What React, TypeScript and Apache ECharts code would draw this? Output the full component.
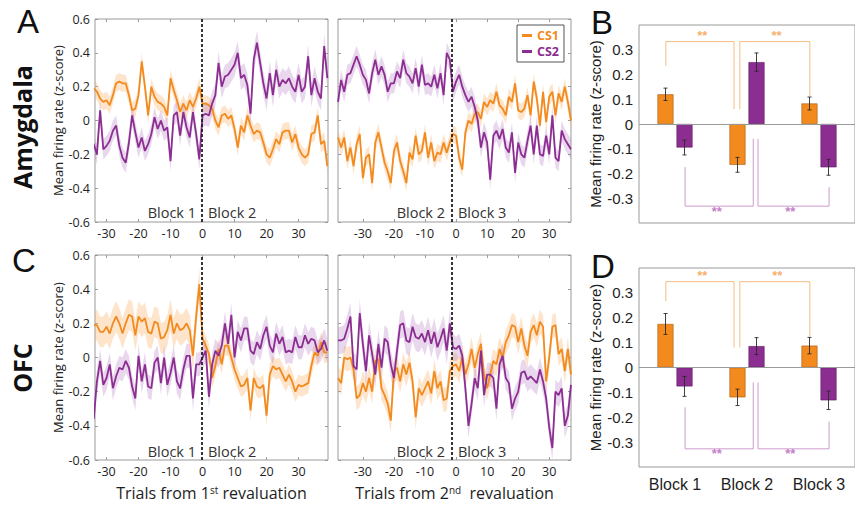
import React, { useEffect, useRef } from 'react';
import * as echarts from 'echarts';

// ---------------- data ----------------
const FIRST_TRIAL_1ST = -35; // left panels: trials -35..39
const FIRST_TRIAL_2ND = -38; // right panels: trials -38..37
const X_RANGE_1ST = [-33.6, 39.2];
const X_RANGE_2ND = [-38, 37];
const REVAL_1ST_X = -0.1;
const REVAL_2ND_X = -1.3;

const xTickValues = [-30, -20, -10, 0, 10, 20, 30];

// Amygdala, 1st revaluation (Block 1 | Block 2)
const amyL_cs1 = [0.2,
  0.19, 0.17, 0.13, 0.11, 0.12, 0.09, 0.15, 0.22, 0.23, 0.22, 0.22, 0.15, 0.06, 0.07, 0.15, 0.35, 0.2,
  0.03, 0.2, 0.14, 0.11, 0.1, 0.08, 0.03, 0.25, 0.18, 0.12, 0.05, 0.1, 0.06, 0.12, 0.08, 0.13, 0.2,
  0.1, 0.1, 0.09, 0.07, 0.0, -0.04, 0.03, 0.04, 0.01, 0.03, -0.05, -0.16, -0.03, -0.07, 0.03, -0.03, -0.08,
  -0.06, -0.07, -0.13, -0.2, -0.22, -0.17, -0.11, -0.14, -0.07, -0.06, -0.06, -0.13, -0.08, -0.16, -0.2,
  -0.22, -0.2, -0.08, -0.07, 0.03, -0.14, -0.12, -0.27];
const amyL_cs2 = [-0.12,
  -0.14, -0.2, 0.06, -0.17, -0.15, -0.12, -0.06, -0.03, -0.15, -0.22, -0.25, -0.13, 0.03, -0.07, -0.16, -0.1,
  -0.18, -0.14, -0.08, 0.02, -0.05, 0.0, -0.06, -0.04, -0.24, 0.03, 0.05, -0.09, 0.05, -0.04, -0.1, 0.05,
  -0.08, -0.23,
  0.03, 0.04, 0.03, 0.1, 0.15, 0.34, 0.2, 0.26, 0.27, 0.3, 0.33, 0.4, 0.25, 0.27, 0.21, 0.04, 0.36, 0.46,
  0.34, 0.22, 0.13, 0.28, 0.15, 0.3, 0.2, 0.24, 0.22, 0.25, 0.2, 0.17, 0.27, 0.17, 0.2, 0.38, 0.15, 0.25,
  0.17, 0.13, 0.44, 0.25];
const amyL_sem_cs1 = [0.05, 0.05];
const amyL_sem_cs2 = [0.06, 0.07];

// Amygdala, 2nd revaluation (Block 2 | Block 3)
const amyR_cs1 = [
  -0.1, -0.16, -0.1, -0.24, -0.16, -0.27, -0.14, -0.08, -0.34, -0.22, -0.2, -0.37, -0.13, -0.07, -0.16,
  -0.25, -0.3, -0.37, -0.18, -0.13, -0.24, -0.3, -0.37, -0.19, -0.23, -0.09, -0.2, -0.18, -0.07, -0.22,
  -0.13, -0.24, -0.19, -0.2, -0.13, -0.19, -0.13, -0.08,
  -0.09, -0.22, -0.29, -0.07, 0.0, -0.02, 0.04, 0.05, 0.01, 0.11, 0.08, 0.12, 0.1, 0.17, 0.09, 0.07, 0.03,
  0.14, 0.11, 0.22, 0.06, 0.05, 0.07, 0.15, 0.03, 0.23, 0.13, -0.03, 0.17, -0.01, 0.14, 0.17, 0.03, 0.16,
  0.11, 0.2, 0.11, 0.0];
const amyR_cs2 = [
  0.11, 0.24, 0.17, 0.27, 0.28, 0.33, 0.38, 0.33, 0.27, 0.24, 0.16, 0.28, 0.36, 0.27, 0.32, 0.27, 0.17,
  0.22, 0.22, 0.29, 0.25, 0.36, 0.28, 0.26, 0.22, 0.31, 0.2, 0.33, 0.21, 0.22, 0.2, 0.27, 0.19, 0.28, 0.15,
  0.4, 0.36, 0.17,
  0.23, 0.27, 0.2, 0.15, 0.11, 0.14, 0.08, 0.0, -0.16, -0.07, -0.13, -0.35, -0.09, -0.06, -0.11, -0.05,
  -0.16, -0.19, -0.07, -0.31, -0.13, -0.2, -0.22, -0.12, -0.03, -0.2, -0.03, -0.2, -0.21, -0.09, -0.2,
  0.03, -0.22, -0.24, -0.06, -0.11, -0.14, -0.17];
const amyR_sem_cs1 = [0.05, 0.05];
const amyR_sem_cs2 = [0.06, 0.06];

// OFC, 1st revaluation
const ofcL_cs1 = [0.19,
  0.19, 0.19, 0.15, 0.15, 0.18, 0.14, 0.2, 0.24, 0.2, 0.14, 0.2, 0.25, 0.24, 0.13, 0.24, 0.21, 0.23, 0.15,
  0.14, 0.21, 0.2, 0.11, 0.12, 0.16, 0.25, 0.14, 0.2, 0.16, 0.17, 0.2, 0.16, 0.01, 0.24, 0.43,
  0.11, 0.07, 0.02, -0.12, -0.05, 0.05, -0.04, 0.07, 0.07, 0.0, -0.07, -0.12, -0.17, -0.16, -0.12, -0.31,
  -0.12, -0.17, -0.18, -0.16, -0.34, -0.1, -0.05, -0.07, -0.06, -0.1, -0.14, -0.1, -0.14, -0.2, -0.16,
  -0.17, -0.16, -0.15, -0.05, 0.03, 0.01, 0.09, 0.03, 0.03];
const ofcL_cs2 = [
  0.0, -0.36, -0.14, -0.02, -0.16, -0.12, -0.04, -0.18, -0.11, -0.06, -0.07, -0.02, -0.06, -0.17, -0.24,
  0.01, -0.14, -0.04, -0.17, -0.18, -0.03, 0.0, -0.15, 0.0, -0.16, -0.09, 0.0, -0.14, -0.18, -0.07, 0.01,
  0.01, -0.24, -0.04, -0.04,
  0.0, 0.04, -0.23, -0.04, 0.04, 0.01, 0.07, 0.2, 0.08, 0.25, 0.0, 0.15, 0.1, 0.17, 0.17, 0.04, 0.02, 0.09,
  0.05, 0.13, 0.18, 0.07, 0.03, 0.14, 0.08, 0.12, 0.03, 0.04, 0.03, 0.12, 0.06, 0.06, 0.13, 0.08, 0.11,
  0.1, 0.03, 0.05, 0.1, 0.04];
const ofcL_sem_cs1 = [0.09, 0.06];
const ofcL_sem_cs2 = [0.07, 0.07];

// OFC, 2nd revaluation
const ofcR_cs1 = [
  -0.12, -0.15, 0.0, -0.01, 0.0, -0.07, -0.24, -0.22, -0.15, -0.2, -0.12, -0.2, -0.02, -0.01, -0.18,
  -0.22, -0.27, -0.37, -0.08, -0.06, -0.14, -0.04, -0.1, -0.03, -0.14, -0.35, -0.18, -0.22, -0.18, -0.14,
  -0.21, -0.08, -0.18, -0.14, -0.25, -0.24, -0.08, -0.05,
  -0.04, -0.08, 0.0, -0.1, -0.04, 0.05, -0.06, 0.02, 0.08, -0.1, -0.18, -0.1, -0.02, -0.04, 0.05, 0.0,
  0.09, 0.13, 0.19, 0.18, 0.09, 0.17, 0.07, 0.01, 0.15, 0.19, 0.13, 0.21, 0.18, -0.14, 0.0, 0.18, 0.19,
  0.02, 0.05, -0.08, 0.05, -0.1];
const ofcR_cs2 = [
  0.1, 0.1, 0.11, 0.17, 0.24, -0.05, -0.07, 0.26, 0.08, -0.08, 0.13, 0.02, -0.1, 0.08, -0.06, 0.11, 0.09,
  -0.04, -0.12, 0.04, 0.19, 0.2, 0.1, 0.09, 0.18, 0.12, 0.11, 0.14, 0.09, 0.16, 0.08, 0.15, 0.06, 0.11,
  0.17, 0.04, 0.2, 0.06,
  0.05, 0.07, 0.01, -0.18, -0.4, -0.27, -0.12, -0.18, 0.04, -0.22, -0.1, -0.1, -0.12, -0.3, -0.04, 0.01,
  -0.12, -0.15, -0.3, -0.24, -0.2, -0.09, -0.08, -0.13, -0.11, -0.13, -0.15, -0.07, -0.14, -0.24, -0.41,
  -0.53, -0.2, -0.22, -0.18, -0.4, -0.34, -0.16];
const ofcR_sem_cs1 = [0.07, 0.07];
const ofcR_sem_cs2 = [0.08, 0.07];

// Bar panels
const blockCategories = ['Block 1', 'Block 2', 'Block 3'];
const barB_cs1 = [0.12, -0.165, 0.083];
const barB_cs1_err = [0.025, 0.03, 0.026];
const barB_cs2 = [-0.095, 0.25, -0.175];
const barB_cs2_err = [0.03, 0.037, 0.032];
const barD_cs1 = [0.175, -0.12, 0.088];
const barD_cs1_err = [0.042, 0.033, 0.033];
const barD_cs2 = [-0.076, 0.086, -0.132];
const barD_cs2_err = [0.04, 0.034, 0.037];

// significance brackets (category units 0..3, z-score)
const bracketB_cs1 = [
  [[0.373, 0.235], [0.373, 0.333], [1.32, 0.333], [1.32, 0.06]],
  [[1.4, 0.06], [1.4, 0.333], [2.373, 0.333], [2.373, 0.113]],
];
const bracketB_cs2 = [
  [[0.64, -0.174], [0.64, -0.332], [1.587, -0.332], [1.587, -0.06]],
  [[1.653, -0.06], [1.653, -0.332], [2.64, -0.332], [2.64, -0.255]],
];
const starsB_cs1 = [[0.88, 0.356], [1.91, 0.356]];
const starsB_cs2 = [[1.08, -0.352], [2.1, -0.352]];
const bracketD_cs1 = [
  [[0.373, 0.266], [0.373, 0.345], [1.32, 0.345], [1.32, 0.08]],
  [[1.4, 0.08], [1.4, 0.345], [2.373, 0.345], [2.373, 0.125]],
];
const bracketD_cs2 = [
  [[0.64, -0.16], [0.64, -0.327], [1.587, -0.327], [1.587, -0.06]],
  [[1.653, -0.06], [1.653, -0.327], [2.64, -0.327], [2.64, -0.218]],
];
const starsD_cs1 = [[0.88, 0.368], [1.92, 0.368]];
const starsD_cs2 = [[1.08, -0.347], [2.1, -0.347]];

// ---------------- style ----------------
const ORANGE = '#F28A1E';
const PURPLE = '#8C2D91';
const ORANGE_BAND = 'rgba(250, 170, 90, 0.32)';
const PURPLE_BAND = 'rgba(175, 110, 195, 0.28)';
const ORANGE_BRACKET = '#F5BC85';
const PURPLE_BRACKET = '#CE9BD0';
const FRAME = '#9a9a9a';
const TXT = '#1e1e1e';
const LINE_FONT = '"Open Sans", "DejaVu Sans", sans-serif';
const BAR_FONT = '"Liberation Sans", Arial, sans-serif';
const BAR_W = 16;
const BAR_GAP_PX = 3;

function buildOption() {
  const grid: any[] = [];
  const xAxis: any[] = [];
  const yAxis: any[] = [];
  const series: any[] = [];

  const linePanels = [
    { box: { left: 95, top: 19, width: 233, height: 203 }, cs1: amyL_cs1, cs2: amyL_cs2, s1: amyL_sem_cs1, s2: amyL_sem_cs2, start: FIRST_TRIAL_1ST, range: X_RANGE_1ST, reval: REVAL_1ST_X, yLabels: true, xName: '' },
    { box: { left: 338, top: 19, width: 233, height: 203 }, cs1: amyR_cs1, cs2: amyR_cs2, s1: amyR_sem_cs1, s2: amyR_sem_cs2, start: FIRST_TRIAL_2ND, range: X_RANGE_2ND, reval: REVAL_2ND_X, yLabels: false, xName: '' },
    { box: { left: 95, top: 255, width: 233, height: 205 }, cs1: ofcL_cs1, cs2: ofcL_cs2, s1: ofcL_sem_cs1, s2: ofcL_sem_cs2, start: FIRST_TRIAL_1ST, range: X_RANGE_1ST, reval: REVAL_1ST_X, yLabels: true, xName: 'Trials from 1{sup|st} revaluation' },
    { box: { left: 338, top: 255, width: 233, height: 205 }, cs1: ofcR_cs1, cs2: ofcR_cs2, s1: ofcR_sem_cs1, s2: ofcR_sem_cs2, start: FIRST_TRIAL_2ND, range: X_RANGE_2ND, reval: REVAL_2ND_X, yLabels: false, xName: 'Trials from 2{sup|nd}  revaluation' },
  ];

  const tick = { show: true, inside: true, length: 3, lineStyle: { color: FRAME } };
  const noLine = { show: false, onZero: false };

  linePanels.forEach((p, g) => {
    grid.push({ ...p.box, show: true, borderColor: FRAME, borderWidth: 1, backgroundColor: '#fff' });
    const n = p.cs1.length;
    const xs = p.cs1.map((_, i) => p.start + i);
    const [xMin, xMax] = p.range;
    const xi = xAxis.length;
    xAxis.push({
      type: 'value', gridIndex: g, min: xMin, max: xMax, position: 'bottom',
      axisLine: noLine, splitLine: { show: false },
      axisTick: { ...tick, customValues: xTickValues },
      axisLabel: { customValues: xTickValues, fontSize: 12.5, color: TXT, margin: 5, fontFamily: LINE_FONT },
      name: p.xName, nameLocation: 'middle', nameGap: 25,
      nameTextStyle: {
        fontSize: 16, color: TXT, fontFamily: LINE_FONT,
        rich: { sup: { fontSize: 10, verticalAlign: 'top', color: TXT, fontFamily: LINE_FONT, padding: [0, 0, 5, 0] } },
      },
    });
    xAxis.push({
      type: 'value', gridIndex: g, min: xMin, max: xMax, position: 'top',
      axisLine: noLine, splitLine: { show: false }, axisLabel: { show: false },
      axisTick: { ...tick, customValues: xTickValues },
    });
    const yi = yAxis.length;
    yAxis.push({
      type: 'value', gridIndex: g, min: -0.6, max: 0.6, interval: 0.2, position: 'left',
      axisLine: noLine, splitLine: { show: false }, axisTick: tick,
      axisLabel: {
        show: p.yLabels, fontSize: 12.5, color: TXT, margin: 5, fontFamily: LINE_FONT,
        formatter: (v: number) => (Math.abs(v) < 1e-9 ? '0' : v.toFixed(1)),
      },
      name: p.yLabels ? 'Mean firing rate (z-score)' : '', nameLocation: 'middle', nameGap: 31,
      nameTextStyle: { fontSize: 13, color: TXT, fontFamily: LINE_FONT },
    });
    yAxis.push({
      type: 'value', gridIndex: g, min: -0.6, max: 0.6, interval: 0.2, position: 'right',
      axisLine: noLine, splitLine: { show: false }, axisTick: tick, axisLabel: { show: false },
    });

    const band = (mean: number[], sem: number[], fill: string) => {
      const lo = mean.map((v, i) => v - (xs[i] < 0 ? sem[0] : sem[1]));
      const hi = mean.map((v, i) => v + (xs[i] < 0 ? sem[0] : sem[1]));
      return {
        type: 'custom', xAxisIndex: xi, yAxisIndex: yi, silent: true, clip: true, z: 1,
        data: xs.map((x, i) => [x, lo[i], hi[i]]),
        encode: { x: 0, y: [1, 2] },
        renderItem: (params: any, api: any) => {
          if (params.dataIndex !== 0) return null;
          const pts: number[][] = [];
          for (let i = 0; i < n; i++) pts.push(api.coord([xs[i], hi[i]]));
          for (let i = n - 1; i >= 0; i--) pts.push(api.coord([xs[i], lo[i]]));
          const cs = params.coordSys;
          return {
            type: 'polygon', shape: { points: pts }, style: { fill },
            clipPath: { type: 'rect', shape: { x: cs.x, y: cs.y, width: cs.width, height: cs.height } },
          };
        },
      };
    };
    series.push(band(p.cs1, p.s1, ORANGE_BAND));
    series.push(band(p.cs2, p.s2, PURPLE_BAND));
    series.push({
      type: 'line', name: 'CS1', xAxisIndex: xi, yAxisIndex: yi, symbol: 'none', z: 3, clip: true,
      data: xs.map((x, i) => [x, p.cs1[i]]),
      lineStyle: { color: ORANGE, width: 1.8 }, itemStyle: { color: ORANGE },
    });
    series.push({
      type: 'line', name: 'CS2', xAxisIndex: xi, yAxisIndex: yi, symbol: 'none', z: 4, clip: true,
      data: xs.map((x, i) => [x, p.cs2[i]]),
      lineStyle: { color: PURPLE, width: 1.8 }, itemStyle: { color: PURPLE },
      markLine: {
        silent: true, symbol: ['none', 'none'], label: { show: false }, z: 6,
        lineStyle: { color: '#222', type: [3, 2], width: 1.8 },
        data: [{ xAxis: p.reval }],
      },
    });
  });

  const barPanels = [
    { box: { left: 639, top: 25, width: 225, height: 198 }, cs1: barB_cs1, e1: barB_cs1_err, cs2: barB_cs2, e2: barB_cs2_err, br1: bracketB_cs1, br2: bracketB_cs2, st1: starsB_cs1, st2: starsB_cs2, labels: false },
    { box: { left: 639, top: 268, width: 225, height: 199 }, cs1: barD_cs1, e1: barD_cs1_err, cs2: barD_cs2, e2: barD_cs2_err, br1: bracketD_cs1, br2: bracketD_cs2, st1: starsD_cs1, st2: starsD_cs2, labels: true },
  ];

  barPanels.forEach((p) => {
    const g = grid.length;
    grid.push({ ...p.box, show: true, borderColor: FRAME, borderWidth: 1, backgroundColor: '#fff' });
    const xi = xAxis.length;
    xAxis.push({
      type: 'category', gridIndex: g, data: blockCategories,
      axisLine: noLine, axisTick: { show: false },
      axisLabel: { show: p.labels, fontSize: 16, color: TXT, margin: 9, fontFamily: BAR_FONT },
    });
    const xo = xAxis.length;
    xAxis.push({ type: 'value', gridIndex: g, min: 0, max: 3, show: false, axisLine: noLine });
    const yi = yAxis.length;
    yAxis.push({
      type: 'value', gridIndex: g, min: -0.4, max: 0.4, interval: 0.1,
      axisLine: noLine, axisTick: { show: false }, splitLine: { show: false },
      axisLabel: {
        fontSize: 15, color: TXT, margin: 6, fontFamily: BAR_FONT,
        formatter: (v: number) => (Math.abs(v) > 0.35 ? '' : Math.abs(v) < 1e-9 ? '0' : v.toFixed(1)),
      },
      name: 'Mean firing rate (z-score)', nameLocation: 'middle', nameGap: 29,
      nameTextStyle: { fontSize: 15, color: TXT, fontFamily: BAR_FONT },
    });

    const gapPct = `${Math.round((BAR_GAP_PX / BAR_W) * 100)}%`;
    series.push({
      type: 'bar', name: 'CS1', xAxisIndex: xi, yAxisIndex: yi, data: p.cs1,
      barWidth: BAR_W, barGap: gapPct,
      itemStyle: { color: ORANGE, borderColor: '#a85a12', borderWidth: 0.6 },
      markLine: {
        silent: true, symbol: ['none', 'none'], label: { show: false },
        lineStyle: { color: FRAME, type: 'solid', width: 1 },
        data: [{ yAxis: 0 }],
      },
    });
    series.push({
      type: 'bar', name: 'CS2', xAxisIndex: xi, yAxisIndex: yi, data: p.cs2,
      barWidth: BAR_W, barGap: gapPct,
      itemStyle: { color: PURPLE, borderColor: '#5a1a5e', borderWidth: 0.6 },
    });
    const off = (BAR_W + BAR_GAP_PX) / 2;
    const errSeries = (vals: number[], errs: number[], sign: number) => ({
      type: 'custom', xAxisIndex: xi, yAxisIndex: yi, silent: true, z: 5,
      data: vals.map((v, i) => [i, v, errs[i]]),
      encode: { x: 0, y: 1 },
      renderItem: (params: any, api: any) => {
        const idx = api.value(0);
        const v = api.value(1);
        const e = api.value(2);
        const top = api.coord([idx, v + e]);
        const bot = api.coord([idx, v - e]);
        const x = top[0] + sign * off;
        const st = { stroke: '#2a2a2a', lineWidth: 0.9 };
        return {
          type: 'group',
          children: [
            { type: 'line', shape: { x1: x, y1: top[1], x2: x, y2: bot[1] }, style: st },
            { type: 'line', shape: { x1: x - 2, y1: top[1], x2: x + 2, y2: top[1] }, style: st },
            { type: 'line', shape: { x1: x - 2, y1: bot[1], x2: x + 2, y2: bot[1] }, style: st },
          ],
        };
      },
    });
    series.push(errSeries(p.cs1, p.e1, -1));
    series.push(errSeries(p.cs2, p.e2, 1));

    const bracket = (pts: number[][], color: string) => ({
      type: 'line', xAxisIndex: xo, yAxisIndex: yi, data: pts, symbol: 'none', silent: true, z: 3,
      lineStyle: { color, width: 1 },
    });
    p.br1.forEach((b) => series.push(bracket(b, ORANGE_BRACKET)));
    p.br2.forEach((b) => series.push(bracket(b, PURPLE_BRACKET)));
    const stars = (pts: number[][], color: string) => ({
      type: 'scatter', xAxisIndex: xo, yAxisIndex: yi, data: pts, symbolSize: 0, silent: true, z: 6,
      label: { show: true, position: 'inside', formatter: '**', color, fontSize: 13, fontWeight: 'bold', fontFamily: BAR_FONT },
    });
    series.push(stars(p.st1, '#F39A45'));
    series.push(stars(p.st2, '#B45CB8'));
  });

  const txt = (text: string, x: number, y: number, style: any, extra: any = {}) => ({
    type: 'text', x, y, silent: true, ...extra,
    style: { text, fill: TXT, align: 'center', verticalAlign: 'middle', ...style },
  });
  const panelLetter = { fontSize: 33, fontFamily: BAR_FONT, fill: '#111' };
  const blockStyle = { fontSize: 14.5, fontFamily: LINE_FONT, fill: '#333' };

  const graphic = [
    txt('A', 28, 21, panelLetter),
    txt('B', 602, 22, panelLetter),
    txt('C', 24, 260, panelLetter),
    txt('D', 603, 266, panelLetter),
    txt('Amygdala', 22, 127, { fontSize: 25, fontWeight: 'bold', fontFamily: LINE_FONT, fill: '#111' }, { rotation: Math.PI / 2 }),
    txt('OFC', 22, 368, { fontSize: 25, fontWeight: 'bold', fontFamily: LINE_FONT, fill: '#111' }, { rotation: Math.PI / 2 }),
    txt('Block 1', 196, 212, { ...blockStyle, align: 'right' }),
    txt('Block 2', 208, 212, { ...blockStyle, align: 'left' }),
    txt('Block 2', 445, 212, { ...blockStyle, align: 'right' }),
    txt('Block 3', 458, 212, { ...blockStyle, align: 'left' }),
    txt('Block 1', 196, 451, { ...blockStyle, align: 'right' }),
    txt('Block 2', 208, 451, { ...blockStyle, align: 'left' }),
    txt('Block 2', 445, 451, { ...blockStyle, align: 'right' }),
    txt('Block 3', 458, 451, { ...blockStyle, align: 'left' }),
  ];

  return {
    animation: false,
    backgroundColor: '#fff',
    grid,
    xAxis,
    yAxis,
    series,
    graphic,
    legend: {
      orient: 'vertical', left: 517, top: 25, padding: [4, 5, 4, 5], itemGap: 3,
      itemWidth: 10, itemHeight: 3, icon: 'rect', selectedMode: false,
      borderColor: '#555', borderWidth: 1, backgroundColor: '#fff',
      textStyle: { fontSize: 12.5, fontWeight: 'bold', fontFamily: LINE_FONT },
      data: [
        { name: 'CS1', textStyle: { color: ORANGE } },
        { name: 'CS2', textStyle: { color: PURPLE } },
      ],
    },
  };
}

export default function App() {
  const ref = useRef<HTMLDivElement>(null);
  useEffect(() => {
    if (!ref.current) return;
    const chart = echarts.init(ref.current, null, { renderer: 'svg' });
    chart.setOption(buildOption() as any);
    return () => chart.dispose();
  }, []);
  return (
    <div
      ref={ref}
      style={{ position: 'absolute', left: 0, top: 0, width: 855, height: 506, background: '#fff' }}
    />
  );
}
